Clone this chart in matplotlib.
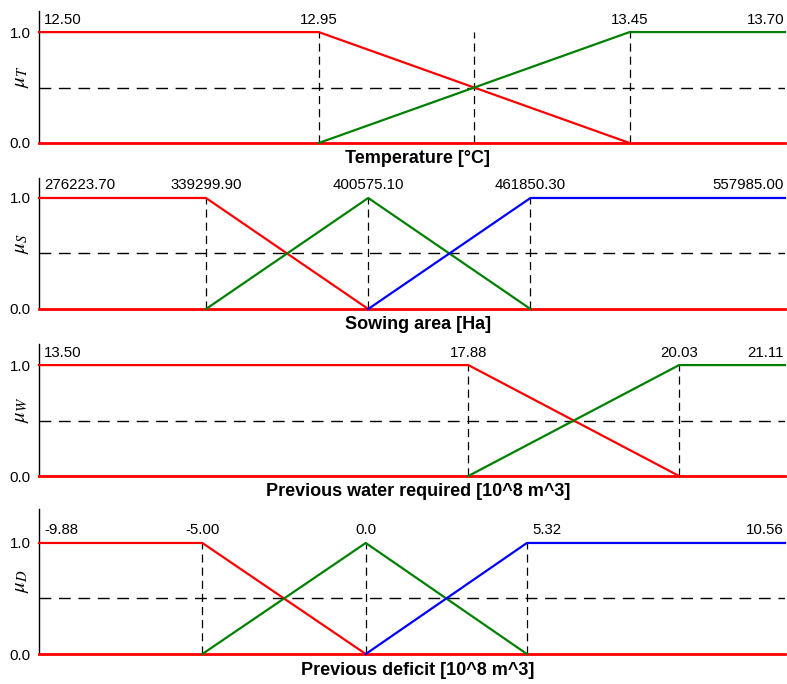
import numpy as np
from matplotlib import pyplot as plt

plt.rcParams['font.family'] = ['Liberation Sans', 'DejaVu Sans']
plt.rcParams['mathtext.fontset'] = 'stix'

# breakpoints of the fuzzy sets for each input variable
temp_pts = [12.50, 12.95, 13.45, 13.70]
temp_labels = ["12.50", "12.95", "13.45", "13.70"]
temp_vlines = [12.95, 13.20, 13.45]

area_pts = [276223.70, 339299.90, 400575.10, 461850.30, 557985.00]
area_labels = ["276223.70", "339299.90", "400575.10", "461850.30", "557985.00"]

water_pts = [13.50, 17.88, 20.03, 21.11]
water_labels = ["13.50", "17.88", "20.03", "21.11"]

deficit_pts = [-9.88, -5.00, 0.0, 5.32, 10.56]
deficit_labels = ["-9.88", "-5.00", "0.0", "5.32", "10.56"]
# the deficit axis is not drawn to a linear scale
deficit_axis_pos = [0.0, 0.219, 0.438, 0.654, 1.0]

# membership values on three consecutive breakpoints
low_mu = [1, 1, 0]
mid_mu = [0, 1, 0]
high_mu = [0, 1, 1]

RED = '#ff0000'
GREEN = '#008000'
BLUE = '#0000ff'

fig = plt.figure(figsize=(7.87, 6.84), dpi=100)
W, H = 787.0, 684.0


def make_axes(top, bottom):
	return fig.add_axes([39/W, 1 - bottom/H, 746/W, (bottom - top)/H])


def draw_panel(ax, pts, labels, aligns, vlines, sets, ymax, ylab, xlab):
	ax.set_xlim(pts[0], pts[-1])
	ax.set_ylim(0, ymax)
	for sp in ['top', 'right', 'bottom']:
		ax.spines[sp].set_visible(False)
	ax.spines['left'].set_linewidth(1.0)
	ax.set_xticks([])
	ax.set_yticks([0, 1])
	ax.set_yticklabels(["0.0", "1.0"], fontsize=10.8)
	ax.tick_params(axis='y', length=0, pad=6)

	ax.axhline(0.5, color='black', lw=1, ls=(0, (8.5, 5.5)))
	ax.vlines(vlines, 0, 1, color='black', lw=0.9, ls=(0, (6.5, 4)))
	ax.axhline(0, color=RED, lw=2, clip_on=False, zorder=3)

	for start, mu, color in sets:
		ax.plot(pts[start:start+3], mu, color=color, lw=1.6, clip_on=False, zorder=4)

	offsets = {'left': 5, 'center': 0, 'right': -1}
	for x, lbl, al in zip(pts, labels, aligns):
		ax.annotate(lbl, (x, 1), xytext=(offsets[al]*0.72, 4), textcoords='offset points',
			ha=al, va='bottom', fontsize=10.8)

	ax.set_ylabel(ylab, fontsize=15, rotation=90)
	ax.yaxis.set_label_coords(-0.024, 0.5)
	ax.yaxis.label.set_va('center')
	ax.set_xlabel(xlab, fontsize=13, fontweight='bold')
	ax.xaxis.set_label_coords(0.508, -0.055)
	ax.xaxis.label.set_va('top')


ax1 = make_axes(11, 143)
draw_panel(ax1, temp_pts, temp_labels, ['left', 'center', 'center', 'right'], temp_vlines,
	[(0, low_mu, RED), (1, high_mu, GREEN)], 1.19, r'$\mu_T$', "Temperature [°C]")

ax2 = make_axes(178, 309)
draw_panel(ax2, area_pts, area_labels, ['left', 'center', 'center', 'center', 'right'], area_pts[1:4],
	[(0, low_mu, RED), (1, mid_mu, GREEN), (2, high_mu, BLUE)], 1.18, r'$\mu_S$', "Sowing area [Ha]")

ax3 = make_axes(344, 476)
draw_panel(ax3, water_pts, water_labels, ['left', 'center', 'center', 'right'], water_pts[1:3],
	[(0, low_mu, RED), (1, high_mu, GREEN)], 1.19, r'$\mu_W$', "Previous water required [10^8 m^3]")

ax4 = make_axes(509, 654)
fwd = lambda x: np.interp(x, deficit_pts, deficit_axis_pos)
inv = lambda y: np.interp(y, deficit_axis_pos, deficit_pts)
ax4.set_xscale('function', functions=(fwd, inv))
draw_panel(ax4, deficit_pts, deficit_labels, ['left', 'center', 'center', 'left', 'right'], deficit_pts[1:4],
	[(0, low_mu, RED), (1, mid_mu, GREEN), (2, high_mu, BLUE)], 1.306, r'$\mu_D$', "Previous deficit [10^8 m^3]")

plt.savefig("out.png", dpi=100)
